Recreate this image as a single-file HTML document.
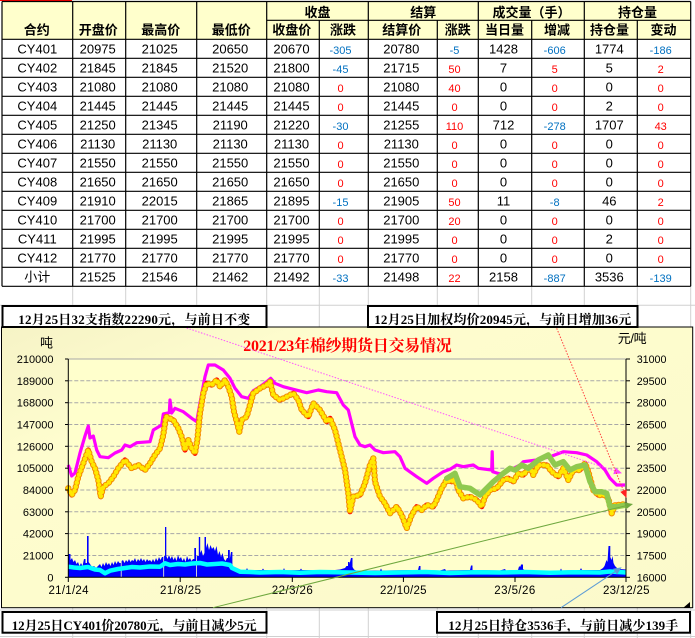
<!DOCTYPE html>
<html><head><meta charset="utf-8">
<style>
html,body{margin:0;padding:0;background:#fff;}
svg{display:block;}
.k{font-family:"Liberation Sans","Noto Sans CJK SC",sans-serif;font-size:13px;fill:#000;text-anchor:middle;}
.r{font-family:"Liberation Sans",sans-serif;font-size:11px;fill:#FF0000;text-anchor:middle;}
.b{font-family:"Liberation Sans",sans-serif;font-size:11px;fill:#0070C0;text-anchor:middle;}
.h{font-family:"Liberation Sans","Noto Sans CJK SC",sans-serif;font-size:13px;font-weight:bold;fill:#000;text-anchor:middle;}
.ax{font-family:"Liberation Sans",sans-serif;font-size:11px;fill:#000;}
.bx{font-family:"Liberation Serif","Noto Serif CJK SC",serif;font-size:13px;font-weight:bold;fill:#000;}
</style></head>
<body>
<svg width="695" height="638" viewBox="0 0 695 638" xmlns="http://www.w3.org/2000/svg">
<defs>
<linearGradient id="cg" x1="0" y1="0" x2="1" y2="1">
<stop offset="0" stop-color="#F6F3C6"/><stop offset="0.25" stop-color="#FEFDCE"/><stop offset="1" stop-color="#FBF9CB"/>
</linearGradient>
<polyline id="pr" points="68.3,488.3 71.7,495 75,490 78.3,476.7 83.3,463.3 88.3,450 91.7,461.7 95,468.3 98.3,480 100.7,496.7 103.3,486.7 108.3,483.3 113.3,476.7 118.3,468.3 125,460 131.7,468.3 138.3,465 145,470 150,463.3 155,455 160,448.3 163.3,435 166,416.7 173.3,420 178.3,428.3 181.7,436.7 185,450 188.3,440 191.7,448.3 195,453.3 197.3,440 200,413.3 203.3,393.3 206.7,383.3 211.7,385 216.7,380 220,386.7 225,380 228.3,386.7 231.7,396.7 234,411.7 236.7,421.7 239.3,431.7 241.7,420 246.7,416.7 250,405 253.3,393.3 260,388.3 266.7,385 270,381.7 273.3,395 280,400 286.7,396.7 293.3,393.3 298.3,400 301.7,410 308.3,416.7 313.3,403.3 320,410 326.7,421.7 330,418.3 335,430 340,450 345,470 348.3,493.3 350,511.7 353.3,496.7 360,495 365,483.3 370,465 373.3,458.3 375,481.7 380,496.7 385,503.3 390,513.3 396.7,506.7 401.7,515 406.7,528.3 411.7,515 416.7,506.7 421.7,510 426.7,505 433.3,506.7 436.7,500 441.7,488.3 446.7,480 451.7,481.7 455,478.3 458.3,490 463.3,498.3 470,496.7 476.7,500 481.7,506.7 485,496.7 490,490 496.7,488.3 503.3,480 508.3,478.3 513.3,481.7 518.3,473.3 523.3,475 530,466.7 533.3,475 538.3,465 546.7,465 551.7,471.7 558.3,476.7 563.3,468.3 568.3,480 573.3,470 580,470 585,463.3 588.3,471.7 593.3,490 598.3,495 605,495 608.3,498.3 611.7,513.3 615,505 620,505 625,504"/>
</defs>
<rect width="695" height="638" fill="#fff"/>
<!-- spreadsheet gridlines -->
<g stroke="#D0D0D0" stroke-width="1">
<line x1="0" y1="305.3" x2="695" y2="305.3"/>
<line x1="0" y1="610" x2="695" y2="610"/>
<line x1="0" y1="636.5" x2="695" y2="636.5"/>
<line x1="72.7" y1="286" x2="72.7" y2="638"/><line x1="125.7" y1="286" x2="125.7" y2="638"/>
<line x1="196.7" y1="286" x2="196.7" y2="638"/><line x1="266.7" y1="286" x2="266.7" y2="638"/>
<line x1="319.3" y1="286" x2="319.3" y2="638"/><line x1="368.3" y1="286" x2="368.3" y2="638"/>
<line x1="437.3" y1="286" x2="437.3" y2="638"/><line x1="478.3" y1="286" x2="478.3" y2="638"/>
<line x1="531.7" y1="286" x2="531.7" y2="638"/><line x1="584.3" y1="286" x2="584.3" y2="638"/>
<line x1="637.3" y1="286" x2="637.3" y2="638"/><line x1="690.7" y1="286" x2="690.7" y2="638"/>
</g>
<line x1="0" y1="0.5" x2="72" y2="0.5" stroke="#FF0000" stroke-width="1"/>

<!-- TABLE -->
<rect x="2" y="1.5" width="688.7" height="37.8" fill="#FFFFCC"/>
<g stroke="#000" stroke-width="1.2">
<line x1="2" y1="1.5" x2="690.7" y2="1.5"/>
<line x1="266.7" y1="20.3" x2="690.7" y2="20.3"/>
<line x1="2" y1="39.3" x2="690.7" y2="39.3"/><line x1="2" y1="58.3" x2="690.7" y2="58.3"/>
<line x1="2" y1="77.3" x2="690.7" y2="77.3"/><line x1="2" y1="96.3" x2="690.7" y2="96.3"/>
<line x1="2" y1="115.3" x2="690.7" y2="115.3"/><line x1="2" y1="134.3" x2="690.7" y2="134.3"/>
<line x1="2" y1="153.3" x2="690.7" y2="153.3"/><line x1="2" y1="172.3" x2="690.7" y2="172.3"/>
<line x1="2" y1="191.3" x2="690.7" y2="191.3"/><line x1="2" y1="210.3" x2="690.7" y2="210.3"/>
<line x1="2" y1="229.3" x2="690.7" y2="229.3"/><line x1="2" y1="248.3" x2="690.7" y2="248.3"/>
<line x1="2" y1="267.3" x2="690.7" y2="267.3"/><line x1="2" y1="286.3" x2="690.7" y2="286.3"/>
<line x1="2" y1="1.5" x2="2" y2="286.3"/><line x1="72.7" y1="1.5" x2="72.7" y2="286.3"/>
<line x1="125.7" y1="1.5" x2="125.7" y2="286.3"/><line x1="196.7" y1="1.5" x2="196.7" y2="286.3"/>
<line x1="266.7" y1="1.5" x2="266.7" y2="286.3"/><line x1="368.3" y1="1.5" x2="368.3" y2="286.3"/>
<line x1="478.3" y1="1.5" x2="478.3" y2="286.3"/><line x1="584.3" y1="1.5" x2="584.3" y2="286.3"/>
<line x1="690.7" y1="1.5" x2="690.7" y2="286.3"/>
<line x1="319.3" y1="20.3" x2="319.3" y2="286.3"/><line x1="437.3" y1="20.3" x2="437.3" y2="286.3"/>
<line x1="531.7" y1="20.3" x2="531.7" y2="286.3"/><line x1="637.3" y1="20.3" x2="637.3" y2="286.3"/>
</g>
<!-- headers -->
<text class="h" x="317.5" y="17">收盘</text>
<text class="h" x="423.3" y="17">结算</text>
<text class="h" x="531.5" y="17">成交量（手）</text>
<text class="h" x="637.5" y="17">持仓量</text>
<text class="h" x="36.7" y="34.5">合约</text>
<text class="h" x="98.2" y="34.5">开盘价</text>
<text class="h" x="160.7" y="34.5">最高价</text>
<text class="h" x="231.2" y="34.5">最低价</text>
<text class="h" x="291.8" y="34.5">收盘价</text>
<text class="h" x="343" y="34.5">涨跌</text>
<text class="h" x="401.7" y="34.5">结算价</text>
<text class="h" x="457.8" y="34.5">涨跌</text>
<text class="h" x="504.5" y="34.5">当日量</text>
<text class="h" x="557" y="34.5">增减</text>
<text class="h" x="609.5" y="34.5">持仓量</text>
<text class="h" x="663.5" y="34.5">变动</text>

<!-- data rows -->
<g transform="translate(0,53.3)"><text class="k" x="37.3">CY401</text><text class="k" x="97.7">20975</text><text class="k" x="159.7">21025</text><text class="k" x="230.2">20650</text><text class="k" x="291.5">20670</text><text class="b" x="340.5" y="0.8">-305</text><text class="k" x="401.3">20780</text><text class="b" x="454.5" y="0.8">-5</text><text class="k" x="503.5">1428</text><text class="b" x="554.7" y="0.8">-606</text><text class="k" x="609.3">1774</text><text class="b" x="660.7" y="0.8">-186</text></g>
<g transform="translate(0,72.3)"><text class="k" x="37.3">CY402</text><text class="k" x="97.7">21845</text><text class="k" x="159.7">21845</text><text class="k" x="230.2">21520</text><text class="k" x="291.5">21800</text><text class="b" x="340.5" y="0.8">-45</text><text class="k" x="401.3">21715</text><text class="r" x="454.5" y="0.8">50</text><text class="k" x="503.5">7</text><text class="r" x="554.7" y="0.8">5</text><text class="k" x="609.3">5</text><text class="r" x="660.7" y="0.8">2</text></g>
<g transform="translate(0,91.3)"><text class="k" x="37.3">CY403</text><text class="k" x="97.7">21080</text><text class="k" x="159.7">21080</text><text class="k" x="230.2">21080</text><text class="k" x="291.5">21080</text><text class="r" x="340.5" y="0.8">0</text><text class="k" x="401.3">21080</text><text class="r" x="454.5" y="0.8">40</text><text class="k" x="503.5">0</text><text class="r" x="554.7" y="0.8">0</text><text class="k" x="609.3">0</text><text class="r" x="660.7" y="0.8">0</text></g>
<g transform="translate(0,110.3)"><text class="k" x="37.3">CY404</text><text class="k" x="97.7">21445</text><text class="k" x="159.7">21445</text><text class="k" x="230.2">21445</text><text class="k" x="291.5">21445</text><text class="r" x="340.5" y="0.8">0</text><text class="k" x="401.3">21445</text><text class="r" x="454.5" y="0.8">0</text><text class="k" x="503.5">0</text><text class="r" x="554.7" y="0.8">0</text><text class="k" x="609.3">2</text><text class="r" x="660.7" y="0.8">0</text></g>
<g transform="translate(0,129.3)"><text class="k" x="37.3">CY405</text><text class="k" x="97.7">21250</text><text class="k" x="159.7">21345</text><text class="k" x="230.2">21190</text><text class="k" x="291.5">21220</text><text class="b" x="340.5" y="0.8">-30</text><text class="k" x="401.3">21255</text><text class="r" x="454.5" y="0.8">110</text><text class="k" x="503.5">712</text><text class="b" x="554.7" y="0.8">-278</text><text class="k" x="609.3">1707</text><text class="r" x="660.7" y="0.8">43</text></g>
<g transform="translate(0,148.3)"><text class="k" x="37.3">CY406</text><text class="k" x="97.7">21130</text><text class="k" x="159.7">21130</text><text class="k" x="230.2">21130</text><text class="k" x="291.5">21130</text><text class="r" x="340.5" y="0.8">0</text><text class="k" x="401.3">21130</text><text class="r" x="454.5" y="0.8">0</text><text class="k" x="503.5">0</text><text class="r" x="554.7" y="0.8">0</text><text class="k" x="609.3">0</text><text class="r" x="660.7" y="0.8">0</text></g>
<g transform="translate(0,167.3)"><text class="k" x="37.3">CY407</text><text class="k" x="97.7">21550</text><text class="k" x="159.7">21550</text><text class="k" x="230.2">21550</text><text class="k" x="291.5">21550</text><text class="r" x="340.5" y="0.8">0</text><text class="k" x="401.3">21550</text><text class="r" x="454.5" y="0.8">0</text><text class="k" x="503.5">0</text><text class="r" x="554.7" y="0.8">0</text><text class="k" x="609.3">0</text><text class="r" x="660.7" y="0.8">0</text></g>
<g transform="translate(0,186.3)"><text class="k" x="37.3">CY408</text><text class="k" x="97.7">21650</text><text class="k" x="159.7">21650</text><text class="k" x="230.2">21650</text><text class="k" x="291.5">21650</text><text class="r" x="340.5" y="0.8">0</text><text class="k" x="401.3">21650</text><text class="r" x="454.5" y="0.8">0</text><text class="k" x="503.5">0</text><text class="r" x="554.7" y="0.8">0</text><text class="k" x="609.3">0</text><text class="r" x="660.7" y="0.8">0</text></g>
<g transform="translate(0,205.3)"><text class="k" x="37.3">CY409</text><text class="k" x="97.7">21910</text><text class="k" x="159.7">22015</text><text class="k" x="230.2">21865</text><text class="k" x="291.5">21895</text><text class="b" x="340.5" y="0.8">-15</text><text class="k" x="401.3">21905</text><text class="r" x="454.5" y="0.8">50</text><text class="k" x="503.5">11</text><text class="b" x="554.7" y="0.8">-8</text><text class="k" x="609.3">46</text><text class="r" x="660.7" y="0.8">2</text></g>
<g transform="translate(0,224.3)"><text class="k" x="37.3">CY410</text><text class="k" x="97.7">21700</text><text class="k" x="159.7">21700</text><text class="k" x="230.2">21700</text><text class="k" x="291.5">21700</text><text class="r" x="340.5" y="0.8">0</text><text class="k" x="401.3">21700</text><text class="r" x="454.5" y="0.8">20</text><text class="k" x="503.5">0</text><text class="r" x="554.7" y="0.8">0</text><text class="k" x="609.3">0</text><text class="r" x="660.7" y="0.8">0</text></g>
<g transform="translate(0,243.3)"><text class="k" x="37.3">CY411</text><text class="k" x="97.7">21995</text><text class="k" x="159.7">21995</text><text class="k" x="230.2">21995</text><text class="k" x="291.5">21995</text><text class="r" x="340.5" y="0.8">0</text><text class="k" x="401.3">21995</text><text class="r" x="454.5" y="0.8">0</text><text class="k" x="503.5">0</text><text class="r" x="554.7" y="0.8">0</text><text class="k" x="609.3">2</text><text class="r" x="660.7" y="0.8">0</text></g>
<g transform="translate(0,262.3)"><text class="k" x="37.3">CY412</text><text class="k" x="97.7">21770</text><text class="k" x="159.7">21770</text><text class="k" x="230.2">21770</text><text class="k" x="291.5">21770</text><text class="r" x="340.5" y="0.8">0</text><text class="k" x="401.3">21770</text><text class="r" x="454.5" y="0.8">0</text><text class="k" x="503.5">0</text><text class="r" x="554.7" y="0.8">0</text><text class="k" x="609.3">0</text><text class="r" x="660.7" y="0.8">0</text></g>
<g transform="translate(0,281.3)"><text class="k" x="37.3">小计</text><text class="k" x="97.7">21525</text><text class="k" x="159.7">21546</text><text class="k" x="230.2">21462</text><text class="k" x="291.5">21492</text><text class="b" x="340.5" y="0.8">-33</text><text class="k" x="401.3">21498</text><text class="r" x="454.5" y="0.8">22</text><text class="k" x="503.5">2158</text><text class="b" x="554.7" y="0.8">-887</text><text class="k" x="609.3">3536</text><text class="b" x="660.7" y="0.8">-139</text></g>

<!-- CHART -->
<rect x="1.5" y="327" width="691.2" height="280.7" fill="url(#cg)" stroke="#000" stroke-width="1"/>
<rect x="68.3" y="359" width="557.7" height="218.3" fill="#FFFFCC"/>
<polygon points="683,608 690,608 690,602" fill="#000"/>
<!-- gridlines -->
<line x1="68.3" y1="359" x2="626" y2="359" stroke="#A8A8A8" stroke-width="1"/>
<g stroke="#A8A8A8" stroke-width="1" stroke-dasharray="4 2">
<line x1="68.3" y1="380.8" x2="626" y2="380.8"/><line x1="68.3" y1="402.7" x2="626" y2="402.7"/>
<line x1="68.3" y1="424.5" x2="626" y2="424.5"/><line x1="68.3" y1="446.3" x2="626" y2="446.3"/>
<line x1="68.3" y1="468.2" x2="626" y2="468.2"/><line x1="68.3" y1="490" x2="626" y2="490"/>
<line x1="68.3" y1="511.8" x2="626" y2="511.8"/><line x1="68.3" y1="533.6" x2="626" y2="533.6"/>
<line x1="68.3" y1="555.5" x2="626" y2="555.5"/>
</g>
<!-- volume bars -->
<polygon fill="#0000FF" points="68.3,577 68.3,554 70.5,554 70.5,560 72,558 73.5,562 75,560 76.5,564 78,562 79.5,566 81,563 82.5,566 84,559 85.5,559 85.5,563 87,563 87,536 88.6,536 88.6,562 90,564 92,567 94,566 96,568 98,566 100,564 101.5,567 103,563 104.5,566 106,562 107.5,565 109,563 110.5,566 112,562 113.5,565 115,561 116.5,564 118,561 119.5,563 120.8,563 120.8,577 121.6,577 121.6,561 123,560 124.5,563 126,560 127.5,562 129,559 130.5,562 132,560 133.5,561 135,558 136.5,562 138,559 139.5,561 141,558 142.5,561 144,559 145.5,562 147,559 148.5,561 150,560 151.5,562 153,559 154.5,562 156,558 157.5,561 159,557 160.5,560 162,557 163.3,557 163.3,577 164.1,577 164.1,556 165,556 165,527 166.3,527 166.3,556 167.5,559 169,555 170.5,559 172,556 173.5,560 175,557 176.5,561 178,555 179.5,559 181,557 182.5,561 184,558 185.5,562 187,556 188.5,560 190,558 191.5,561 193,559 194.3,559 194.3,548 196,548 196,577 196.8,577 196.8,556 198.8,556 198.8,537 200.2,537 200.2,553 201.5,550 203,556 204.5,553 204.5,537 206,537 206,548 207.5,543 209,550 210.5,545 212,549 213.5,547 215,551 216.5,546 218,555 219.5,551 221,557 222.5,553 224,559 225.5,561 227,558 228,558 228,550 229.8,550 229.8,559 231,552 232.4,552 232.4,566 234,569 236,570.5 246,570 247,568 248,570 262,570 263,568.5 264,570 283,570.5 284,568 285,570.5 300,570 301,568.5 302,570 330,570.5 340,569.5 345,568 346.5,566 348,566 348,562 349.5,562 349.5,564 351,558 352.5,558 352.5,567 354,569.5 356,570.5 380,570.5 381,568.5 382,570.5 418,570 419,566 420.5,566 420.5,570 440,570.5 445,569 446,570.5 470,570 471,565.5 472.5,565.5 472.5,570 500,570.5 505,569 506,570.5 518,570 519,566.5 520.5,566.5 521,564.5 523,564.5 523,569 525,570.5 560,570.5 561,568.5 562,570.5 580,570 581,568 582,570 600,570 603,568 604.5,566 605.5,563 606.5,560 607.5,562 608.5,546 610.3,546 610.3,557 611.5,560 612.5,556 613.5,563 615,566 617,568 620,569 626,569.5 626,577"/>
<!-- cyan line -->
<polyline fill="none" stroke="#00FFFF" stroke-width="4.5" stroke-linejoin="round" points="68.3,566.7 74,567.5 80,568 88,567 95,569.5 100,570 105,573.3 110,570.7 118,569 125,568 132,567 140,567.5 150,566.5 160,566.7 165,563.3 170,565 178,564 185,564.5 192,563.5 200,563 207,564.5 215,564 222,563.5 230,565 232,568 240,571.7 250,572 260,572.5 280,572 300,572.7 320,572 350,572.5 375,573 400,572.5 425,572 450,573 475,572.3 500,572.5 525,572 550,572.8 575,572.2 600,572.5 610,571.5 626,572.5"/>
<!-- magenta line -->
<polyline fill="none" stroke="#FF00FF" stroke-width="3.2" stroke-linejoin="round" points="68.3,465 71.7,476 75,473 80,453 85,436 88.3,426 90,438 93.3,436 96.7,450 100,456.7 108.3,457.7 115,453 121.7,450 125,445 130,446.7 136.7,442.7 150,441.7 153.3,430 161.7,425 163.3,414 169.3,412.7 170,400 171.7,413 175,408.3 183.3,411.7 191.7,418.3 196.7,421.7 200,403 205,376.7 208.3,365 215,365 223.3,370 230,378.3 235,388.3 241.7,396.7 248.3,398.3 253.3,390.7 260,386.7 266.7,381.7 270.7,378.3 275,383.3 283.3,386.7 293.3,389.3 306.7,392.7 318.3,390 326.7,391.7 336.7,392.7 343.3,405 348.3,410 355,436.7 360,445 365,446.7 370,445 375,450 383.3,452.7 395,451.7 400,456.7 405,468.3 416.7,476.7 426.7,483.3 433.3,478.3 443.3,471.7 450,469.3 456.7,465 463.3,466.7 473.3,465 478.3,468.3 491.7,470 492.2,451.7 492.7,471.7 500,474 510,470 520,465 523.3,461.7 536.7,460 550,456.7 563.3,451.7 576.7,452.7 586.7,455 596.7,461.7 605,470 610,478.3 616.7,485 625,485"/>
<!-- red price line with dots -->
<use href="#pr" fill="none" stroke="#FF0000" stroke-width="5.2" stroke-linejoin="round"/>
<use href="#pr" fill="none" stroke="#F39000" stroke-width="6.4" stroke-dasharray="0 4.2" stroke-linecap="round"/>
<use href="#pr" fill="none" stroke="#FFE800" stroke-width="4.4" stroke-dasharray="0 4.2" stroke-linecap="round"/>
<!-- green line -->
<polyline fill="none" stroke="#8FC94F" stroke-width="5.5" stroke-linejoin="round" stroke-linecap="round" points="446.7,478.3 455,473.3 460,486.7 470,488.3 480,495 485,490 493.3,481.7 503.3,473.3 510,468.3 515,470 521.7,465 528.3,468.3 538.3,460 548.3,455 555,465 563.3,461.7 570,470 576.7,466.7 585,465 590,481.7 595,491.7 601.7,491.7 606.7,493.3 610,506.7 616.7,506.7 626,505"/>
<!-- axes -->
<g stroke="#000" stroke-width="1">
<line x1="68.3" y1="359" x2="68.3" y2="577.3"/>
<line x1="626" y1="359" x2="626" y2="577.3"/>
<line x1="68.3" y1="577.3" x2="626" y2="577.3"/>
<line x1="65" y1="359" x2="68.3" y2="359"/><line x1="65" y1="380.8" x2="68.3" y2="380.8"/><line x1="65" y1="402.7" x2="68.3" y2="402.7"/><line x1="65" y1="424.5" x2="68.3" y2="424.5"/><line x1="65" y1="446.3" x2="68.3" y2="446.3"/><line x1="65" y1="468.2" x2="68.3" y2="468.2"/><line x1="65" y1="490" x2="68.3" y2="490"/><line x1="65" y1="511.8" x2="68.3" y2="511.8"/><line x1="65" y1="533.6" x2="68.3" y2="533.6"/><line x1="65" y1="555.5" x2="68.3" y2="555.5"/><line x1="65" y1="577.3" x2="68.3" y2="577.3"/>
<line x1="626" y1="359" x2="630" y2="359"/><line x1="626" y1="380.8" x2="630" y2="380.8"/><line x1="626" y1="402.7" x2="630" y2="402.7"/><line x1="626" y1="424.5" x2="630" y2="424.5"/><line x1="626" y1="446.3" x2="630" y2="446.3"/><line x1="626" y1="468.2" x2="630" y2="468.2"/><line x1="626" y1="490" x2="630" y2="490"/><line x1="626" y1="511.8" x2="630" y2="511.8"/><line x1="626" y1="533.6" x2="630" y2="533.6"/><line x1="626" y1="555.5" x2="630" y2="555.5"/><line x1="626" y1="577.3" x2="630" y2="577.3"/>
<line x1="68.3" y1="577.3" x2="68.3" y2="582"/><line x1="180.2" y1="577.3" x2="180.2" y2="582"/><line x1="292.3" y1="577.3" x2="292.3" y2="582"/><line x1="403.4" y1="577.3" x2="403.4" y2="582"/><line x1="515" y1="577.3" x2="515" y2="582"/><line x1="626" y1="577.3" x2="626" y2="582"/>
</g>
<!-- axis labels -->
<g class="ax" text-anchor="end">
<text x="53.5" y="363">210000</text><text x="53.5" y="384.8">189000</text><text x="53.5" y="406.7">168000</text><text x="53.5" y="428.5">147000</text><text x="53.5" y="450.3">126000</text><text x="53.5" y="472.2">105000</text><text x="53.5" y="494">84000</text><text x="53.5" y="515.8">63000</text><text x="53.5" y="537.6">42000</text><text x="53.5" y="559.5">21000</text><text x="53.5" y="581.3">0</text>
</g>
<g class="ax" style="font-size:10.7px">
<text x="636.7" y="363">31000</text><text x="636.7" y="384.8">29500</text><text x="636.7" y="406.7">28000</text><text x="636.7" y="428.5">26500</text><text x="636.7" y="450.3">25000</text><text x="636.7" y="472.2">23500</text><text x="636.7" y="494">22000</text><text x="636.7" y="515.8">20500</text><text x="636.7" y="537.6">19000</text><text x="636.7" y="559.5">17500</text><text x="636.7" y="581.3">16000</text>
</g>
<g class="ax" style="font-size:11.5px">
<text x="48.5" y="594" textLength="40">21/1/24</text>
<text x="160" y="594" textLength="41">21/8/25</text>
<text x="271.8" y="594" textLength="41">22/3/26</text>
<text x="380" y="594" textLength="46.5">22/10/25</text>
<text x="494.3" y="594" textLength="41">23/5/26</text>
<text x="603" y="594" textLength="46.5">23/12/25</text>
</g>
<text x="40" y="347.5" style="font-family:'Liberation Sans','Noto Sans CJK SC',sans-serif;font-size:13px;fill:#000">吨</text>
<text x="617.7" y="343" style="font-family:'Liberation Sans','Noto Sans CJK SC',sans-serif;font-size:13px;fill:#000" textLength="29">元/吨</text>
<text x="243.3" y="351" textLength="208.5" style="font-family:'Liberation Serif','Noto Serif CJK SC',serif;font-size:16px;font-weight:bold;fill:#FF0000">2021/23年棉纱期货日交易情况</text>

<!-- annotation lines -->
<line x1="186.7" y1="328" x2="615" y2="471" stroke="#FF55FF" stroke-width="1" stroke-dasharray="1.5 1.5"/>
<polygon points="622,473.3 613.3,474.1 615.5,467.5" fill="#FF44FF"/>
<line x1="556.7" y1="328.3" x2="623.5" y2="490.6" stroke="#FF4040" stroke-width="1" stroke-dasharray="1.5 1.5"/>
<polygon points="626.5,498 620.3,491.9 626.7,489.3" fill="#FF2020"/>
<line x1="213" y1="607.7" x2="625.5" y2="505.8" stroke="#6FA83F" stroke-width="1"/>
<polygon points="633,504 626,509.3 624.4,502.5" fill="#6FA83F"/>
<line x1="561" y1="607.7" x2="615.5" y2="571.4" stroke="#5B9BD5" stroke-width="1"/>
<polygon points="621.7,567.3 617,574.6 613.1,568.8" fill="#5B9BD5"/>

<!-- text boxes -->
<rect x="2.5" y="306" width="264" height="21" fill="#fff" stroke="#000" stroke-width="2"/>
<text class="bx" x="18.3" y="324" textLength="232">12月25日32支指数22290元，与前日不变</text>
<rect x="368" y="306" width="269.5" height="21" fill="#fff" stroke="#000" stroke-width="2"/>
<text class="bx" x="374.3" y="324" textLength="257">12月25日加权均价20945元，与前日增加36元</text>
<rect x="2.5" y="612" width="264" height="20.7" fill="#fff" stroke="#000" stroke-width="2"/>
<text class="bx" x="11.7" y="630" textLength="245">12月25日CY401价20780元，与前日减少5元</text>
<rect x="437" y="612" width="253" height="20.7" fill="#fff" stroke="#000" stroke-width="2"/>
<text class="bx" x="448.3" y="630" textLength="230">12月25日持仓3536手，与前日减少139手</text>
</svg>
</body></html>
